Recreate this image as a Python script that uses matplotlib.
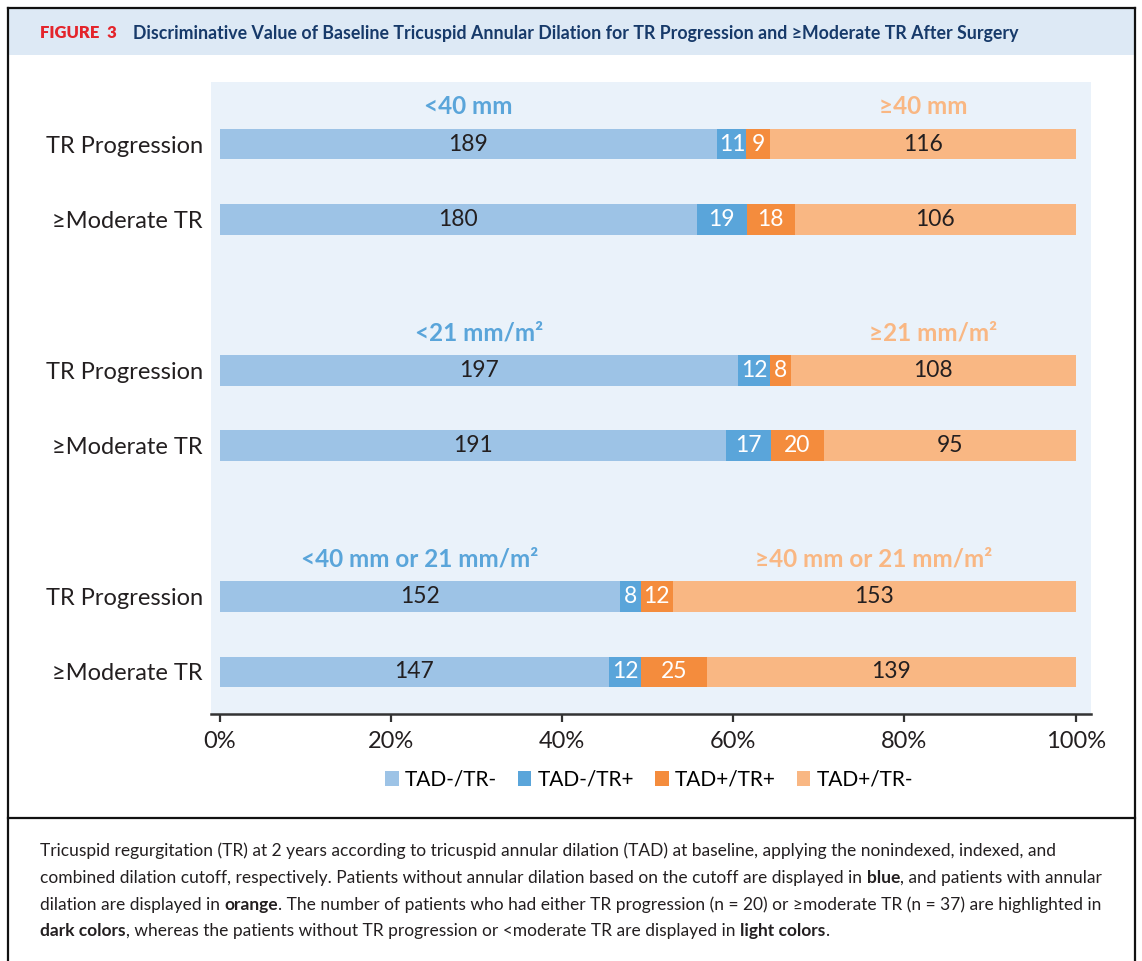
import matplotlib.pyplot as plt
from matplotlib.patches import Rectangle
from matplotlib.lines import Line2D

plt.rcParams['font.family'] = ['Lato', 'DejaVu Sans']

# data: counts per row, segments in order TAD-/TR-, TAD-/TR+, TAD+/TR+, TAD+/TR-
row_labels = ['TR Progression', '≥Moderate TR'] * 3
tad_neg_tr_neg = [189, 180, 197, 191, 152, 147]
tad_neg_tr_pos = [11, 19, 12, 17, 8, 12]
tad_pos_tr_pos = [9, 18, 8, 20, 12, 25]
tad_pos_tr_neg = [116, 106, 108, 95, 153, 139]
group_low = ['<40 mm', '<21 mm/m²', '<40 mm or 21 mm/m²']
group_high = ['≥40 mm', '≥21 mm/m²', '≥40 mm or 21 mm/m²']
legend_labels = ['TAD-/TR-', 'TAD-/TR+', 'TAD+/TR+', 'TAD+/TR-']
xticks = [0, 20, 40, 60, 80, 100]

colors = ['#9dc3e6', '#5aa5da', '#f48c3d', '#f9b783']
text_colors = ['#231f20', 'white', 'white', '#231f20']

W, H = 1142, 961
fig = plt.figure(figsize=(W / 100, H / 100), dpi=100)


def fx(x):
    return x / W


def fy(y):
    return 1 - y / H


# outer frame, header band, divider
fig.add_artist(Rectangle((fx(8), fy(55)), fx(1127), fy(9) - fy(55), transform=fig.transFigure,
                         facecolor='#dde9f5', edgecolor='none', zorder=0))
fig.add_artist(Line2D([fx(8), fx(1135)], [fy(8), fy(8)], color='#111', lw=1.6))
fig.add_artist(Line2D([fx(8), fx(8)], [fy(8), 0], color='#111', lw=1.6))
fig.add_artist(Line2D([fx(1135), fx(1135)], [fy(8), 0], color='#111', lw=1.6))
fig.add_artist(Line2D([fx(8), fx(1135)], [fy(818), fy(818)], color='#111', lw=1.6))

# header
fig.text(fx(40), fy(33), 'FIGURE  3', color='#e4242b', fontsize=12, fontweight='heavy',
         va='center', ha='left')
fig.text(fx(133), fy(33), 'Discriminative Value of Baseline Tricuspid Annular Dilation for TR '
         'Progression and ≥Moderate TR After Surgery', color='#173a6a', fontsize=12.8,
         fontweight='bold', va='center', ha='left')

# chart
ax = fig.add_axes([fx(211), fy(714), fx(1091) - fx(211), fy(82) - fy(714)])
ax.set_facecolor('#eaf2fa')

y_pos = [0, 1, 3, 4, 6, 7]
bar_h = 0.41
series = [tad_neg_tr_neg, tad_neg_tr_pos, tad_pos_tr_pos, tad_pos_tr_neg]
totals = [sum(v) for v in zip(*series)]
pct = [[v / tot * 100 for v, tot in zip(s, totals)] for s in series]

left = [0.0] * len(y_pos)
handles = []
centers = []
for k, (s, p) in enumerate(zip(series, pct)):
    b = ax.barh(y_pos, p, left=left, height=bar_h, color=colors[k], label=legend_labels[k])
    handles.append(b)
    cs = []
    for i in range(len(y_pos)):
        c = left[i] + p[i] / 2
        cs.append(c)
        ax.text(c, y_pos[i], str(s[i]), ha='center', va='center', fontsize=16.5,
                color=text_colors[k])
    centers.append(cs)
    left = [a + b_ for a, b_ in zip(left, p)]

# group labels above first row of each group
for g in range(3):
    r = g * 2
    ax.text(centers[0][r], y_pos[r] - 0.5, group_low[g], ha='center', va='center',
            fontsize=17.5, fontweight='bold', color=colors[1])
    ax.text(centers[3][r], y_pos[r] - 0.5, group_high[g], ha='center', va='center',
            fontsize=17.5, fontweight='bold', color=colors[3])

ax.set_xlim(-1, 101.8)
ax.set_ylim(7.557, -0.822)
ax.set_yticks(y_pos)
ax.set_yticklabels(row_labels, fontsize=17, color='#231f20')
ax.tick_params(axis='y', length=0, pad=6)
ax.set_xticks(xticks)
ax.set_xticklabels([f'{v}%' for v in xticks], fontsize=17, color='#231f20')
ax.tick_params(axis='x', direction='out', length=5.5, width=1.6, color='#333', pad=7)
for side in ['top', 'right', 'left']:
    ax.spines[side].set_visible(False)
ax.spines['bottom'].set_linewidth(1.8)
ax.spines['bottom'].set_color('#333')

fig.legend(handles=handles, labels=legend_labels, loc='center', bbox_to_anchor=(fx(649), fy(780)),
           ncol=4, frameon=False, fontsize=15, handlelength=0.65, handleheight=0.75,
           handletextpad=0.3, columnspacing=1.0)

# caption with bold words
cap_lines = [
    [('Tricuspid regurgitation (TR) at 2 years according to tricuspid annular dilation (TAD) at '
      'baseline, applying the nonindexed, indexed, and', 'normal')],
    [('combined dilation cutoff, respectively. Patients without annular dilation based on the cutoff '
      'are displayed in ', 'normal'), ('blue', 'bold'), (', and patients with annular', 'normal')],
    [('dilation are displayed in ', 'normal'), ('orange', 'bold'),
     ('. The number of patients who had either TR progression (n = 20) or ≥moderate TR (n = 37) '
      'are highlighted in', 'normal')],
    [('dark colors', 'bold'), (', whereas the patients without TR progression or <moderate TR are '
                               'displayed in ', 'normal'), ('light colors', 'bold'), ('.', 'normal')],
]
cap_y = [849, 876, 903, 929]
cap_size = 12.5
for line, yy in zip(cap_lines, cap_y):
    prev = None
    for txt, wt in line:
        if prev is None:
            prev = fig.text(fx(40), fy(yy + 10), txt, fontsize=cap_size, fontweight=wt,
                            color='#231f20', va='bottom', ha='left')
        else:
            prev = fig.add_artist(plt.Annotation(txt, xy=(1, 0), xycoords=prev, fontsize=cap_size,
                                                 fontweight=wt, color='#231f20', va='bottom',
                                                 ha='left'))

fig.savefig('out.png', dpi=100)
